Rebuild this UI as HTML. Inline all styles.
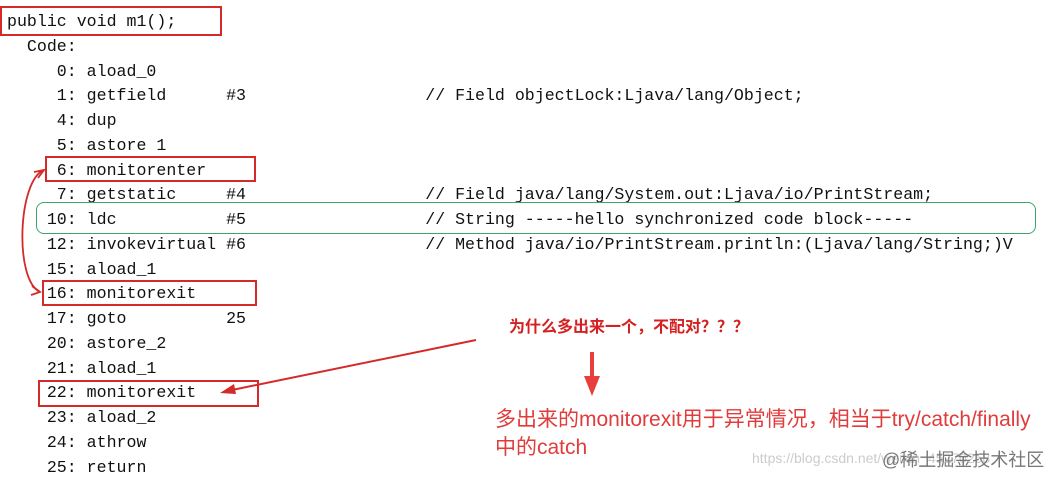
<!DOCTYPE html>
<html><head><meta charset="utf-8"><style>
body{margin:0;width:1061px;height:484px;background:#fff;position:relative;overflow:hidden}
pre{position:absolute;left:7px;top:10px;margin:0;font-family:"Liberation Mono",monospace;font-size:16.6px;line-height:24.75px;color:#111}
.b{position:absolute;border:2px solid #d42a2a;box-sizing:border-box}
.t{position:absolute;font-family:"Liberation Sans","Noto Sans CJK SC",sans-serif;color:#e03c3c;white-space:nowrap}
</style></head><body>
<pre>public void m1();
  Code:
     0: aload_0
     1: getfield      #3                  // Field objectLock:Ljava/lang/Object;
     4: dup
     5: astore 1
     6: monitorenter
     7: getstatic     #4                  // Field java/lang/System.out:Ljava/io/PrintStream;
    10: ldc           #5                  // String -----hello synchronized code block-----
    12: invokevirtual #6                  // Method java/io/PrintStream.println:(Ljava/lang/String;)V
    15: aload_1
    16: monitorexit
    17: goto          25
    20: astore_2
    21: aload_1
    22: monitorexit
    23: aload_2
    24: athrow
    25: return</pre>
<div class="b" style="left:0;top:6px;width:222px;height:30px"></div>
<div class="b" style="left:45px;top:156px;width:211px;height:26px"></div>
<div class="b" style="left:42px;top:280px;width:215px;height:26px"></div>
<div class="b" style="left:38px;top:380px;width:221px;height:27px"></div>
<div style="position:absolute;left:36px;top:202px;width:1000px;height:32px;border:1.5px solid #3fa36b;border-radius:8px;box-sizing:border-box"></div>
<svg width="1061" height="484" style="position:absolute;left:0;top:0">
<path d="M44,170 C18,180 14,280 40,292" fill="none" stroke="#d42a2a" stroke-width="1.8"/>
<path d="M34,172 L44,170 L38,178" fill="none" stroke="#d42a2a" stroke-width="1.8"/>
<path d="M32,286 L40,292 L31,295" fill="none" stroke="#d42a2a" stroke-width="1.8"/>
<line x1="476" y1="340" x2="232" y2="390" stroke="#d42a2a" stroke-width="2"/>
<polygon points="220,393 234,384 236,394" fill="#d42a2a"/>
<rect x="590" y="352" width="4" height="26" fill="#e83e3e"/>
<polygon points="584,376 600,376 592,396" fill="#e83e3e"/>
</svg>
<div class="t" style="left:509px;top:313px;font-size:16px;font-weight:bold;color:#d42020">为什么多出来一个，不配对？？？</div>
<div class="t" style="left:495px;top:403px;font-size:21px">多出来的monitorexit用于异常情况，相当于try/catch/finally</div>
<div class="t" style="left:495px;top:431px;font-size:21px">中的catch</div>
<div class="t" style="left:752px;top:450px;font-size:14px;color:#ccc">https://blog.csdn.net/weixin_45270258</div>
<div class="t" style="left:882px;top:446px;font-size:18px;color:#777">@稀土掘金技术社区</div>
</body></html>
